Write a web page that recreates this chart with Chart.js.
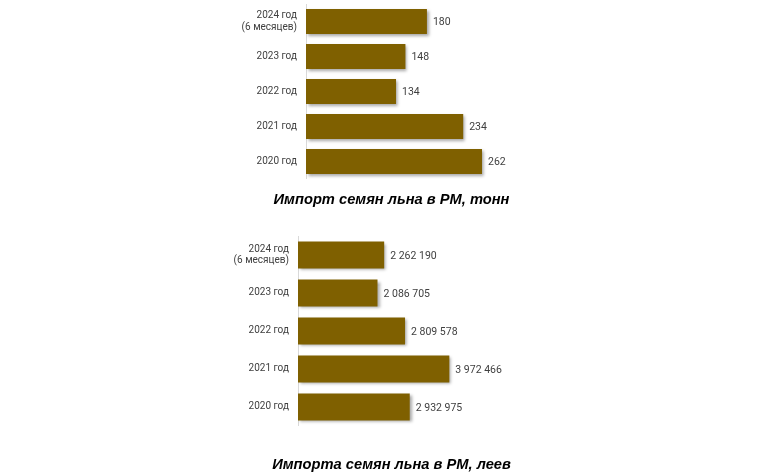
<!DOCTYPE html>
<html>
<head>
<meta charset="utf-8">
<script src="https://cdn.jsdelivr.net/npm/chart.js@4"></script>
<style>
  html, body { margin: 0; padding: 0; background: #fff; }
  body { width: 783px; height: 472px; position: relative; overflow: hidden; }
  .box { position: absolute; left: 0; width: 783px; }
  #boxTons { top: 0; height: 215px; }
  #boxLei { top: 226px; height: 248px; }
</style>
</head>
<body>
<div class="box" id="boxTons"><canvas id="chartTons"></canvas></div>
<div class="box" id="boxLei"><canvas id="chartLei"></canvas></div>
<script>
/*-------------------------------------------------------------------------*/
// Data
/*-------------------------------------------------------------------------*/
var years = [["2024 год", "(6 месяцев)"], "2023 год", "2022 год", "2021 год", "2020 год"];
var importTons = [180, 148, 134, 234, 262];
var importLei = [2262190, 2086705, 2809578, 3972466, 2932975];
var titleTons = "Импорт семян льна в РМ, тонн";
var titleLei = "Импорта семян льна в РМ, леев";

var barColor = "#7f6000";
var textColor = "#404040";

function fmtNumber(v) {
	return String(v).replace(/\B(?=(\d{3})+(?!\d))/g, " ");
}

// bar shadow + value labels at the end of each bar
var barDecor = {
	id: "barDecor",
	beforeDatasetsDraw: function(chart) {
		var ctx = chart.ctx;
		ctx.save();
		ctx.shadowColor = "rgba(0,0,0,0.35)";
		ctx.shadowBlur = 3;
		ctx.shadowOffsetX = 2;
		ctx.shadowOffsetY = 2;
	},
	afterDatasetsDraw: function(chart) {
		var ctx = chart.ctx;
		ctx.restore();
		ctx.save();
		ctx.font = "10.5px Roboto";
		ctx.fillStyle = textColor;
		ctx.textAlign = "left";
		ctx.textBaseline = "middle";
		var meta = chart.getDatasetMeta(0);
		var data = chart.data.datasets[0].data;
		meta.data.forEach(function(bar, i) {
			ctx.fillText(fmtNumber(data[i]), bar.x + 6, bar.y + 1);
		});
		ctx.restore();
	}
};

function TTS_barChart(canvasId, values, title, xMax, opts) {
	return new Chart(document.getElementById(canvasId), {
		type: "bar",
		data: {
			labels: years,
			datasets: [{
				data: values,
				backgroundColor: barColor,
				borderWidth: 0,
				categoryPercentage: 1,
				barPercentage: 0.71
			}]
		},
		options: {
			indexAxis: "y",
			responsive: true,
			maintainAspectRatio: false,
			animation: false,
			layout: { padding: { left: 0, top: opts.top, right: 0, bottom: 0 } },
			plugins: {
				legend: { display: false },
				tooltip: { enabled: false },
				title: {
					display: true,
					text: title,
					position: "bottom",
					color: "#000",
					font: { family: "Liberation Sans", size: 14.7, weight: "bold", style: "italic" },
					padding: { top: opts.titleTop, bottom: opts.titleBottom }
				}
			},
			scales: {
				x: { display: false, min: 0, max: xMax },
				y: {
					afterFit: function(scale) {
						scale.width = opts.axisLeft;
						scale.paddingTop = 0;
						scale.paddingBottom = 0;
					},
					grid: { display: false, drawTicks: false },
					border: { display: true, color: "#d9d9d9", width: 1 },
					ticks: {
						color: textColor,
						padding: 9,
						font: { family: "Roboto", size: 10, lineHeight: 1.15 }
					}
				}
			}
		},
		plugins: [barDecor]
	});
}

// x max chosen so the scale runs to the right edge of the canvas
TTS_barChart("chartTons", importTons, titleTons, 710, { top: 4, axisLeft: 306, titleTop: 12.2, titleBottom: 6.2 });
TTS_barChart("chartLei", importLei, titleLei, 12730000, { top: 10, axisLeft: 298, titleTop: 30.4, titleBottom: 0 });
</script>
</body>
</html>
